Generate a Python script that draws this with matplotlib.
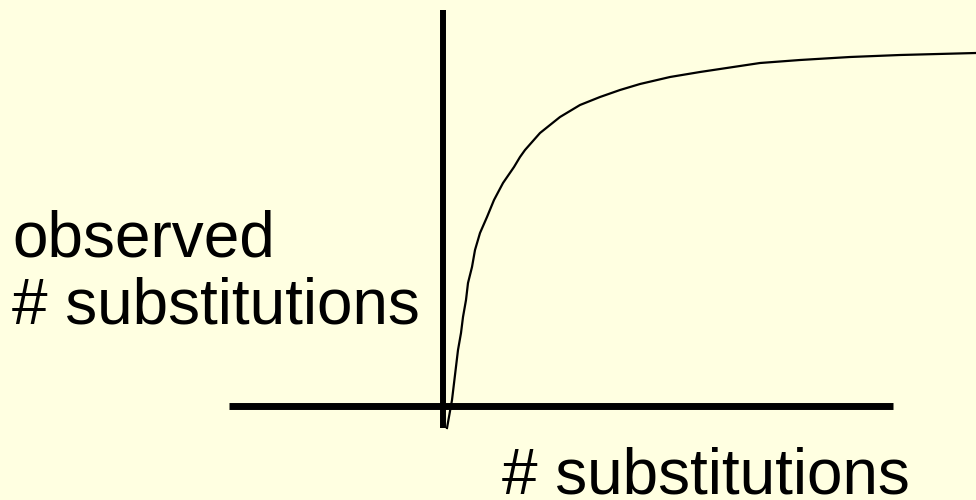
#!/usr/bin/env python3
"""Saturation curve: observed vs. actual number of substitutions."""

import matplotlib.pyplot as plt

# curve (origin at the axis crossing, 1 unit = 100 px)
ACTUAL_SUBS = [0.04, 0.09, 0.15, 0.18, 0.20, 0.23, 0.25, 0.29, 0.32, 0.37,
               0.44, 0.51, 0.60, 0.71, 0.77, 0.82, 0.97, 1.17, 1.37, 1.57,
               1.77, 1.97, 2.27, 2.57, 2.77, 3.17, 3.57, 4.07, 4.57, 5.33]
OBSERVED_SUBS = [-0.225, 0.055, 0.555, 0.725, 0.885, 1.055, 1.225, 1.385,
                 1.555, 1.725, 1.885, 2.055, 2.225, 2.385, 2.485, 2.555,
                 2.725, 2.885, 3.005, 3.085, 3.155, 3.215, 3.285, 3.335,
                 3.365, 3.425, 3.455, 3.485, 3.505, 3.525]

X_AXIS_SPAN = [-2.14, 4.50]
Y_AXIS_SPAN = [-0.225, 3.955]

Y_LABEL = "observed\n# substitutions"
X_LABEL = "# substitutions"

BG = "#FFFFE1"


def main():
    plt.rcParams["font.family"] = ["Liberation Sans", "DejaVu Sans"]

    fig = plt.figure(figsize=(9.76, 5.0), dpi=100, facecolor=BG)
    ax = fig.add_axes([0, 0, 1, 1])
    ax.set_facecolor(BG)
    ax.set_xlim(-4.43, 5.33)
    ax.set_ylim(-0.945, 4.055)
    ax.axis("off")

    # axes drawn as thick bars
    ax.plot(X_AXIS_SPAN, [0, 0], color="black", lw=5.0, solid_capstyle="butt")
    ax.plot([0, 0], Y_AXIS_SPAN, color="black", lw=4.3, solid_capstyle="butt")

    ax.plot(ACTUAL_SUBS, OBSERVED_SUBS, color="black", lw=1.6,
            solid_joinstyle="round", clip_on=False)

    # multi-line text: baseline refers to the last line
    ax.text(-4.31, 0.825, Y_LABEL, fontsize=46, ha="left", va="baseline",
            linespacing=1.13)
    ax.text(0.59, -0.885, X_LABEL, fontsize=46, ha="left", va="baseline")

    fig.savefig("out.png", dpi=100, facecolor=BG)
    plt.close(fig)


if __name__ == "__main__":
    main()
